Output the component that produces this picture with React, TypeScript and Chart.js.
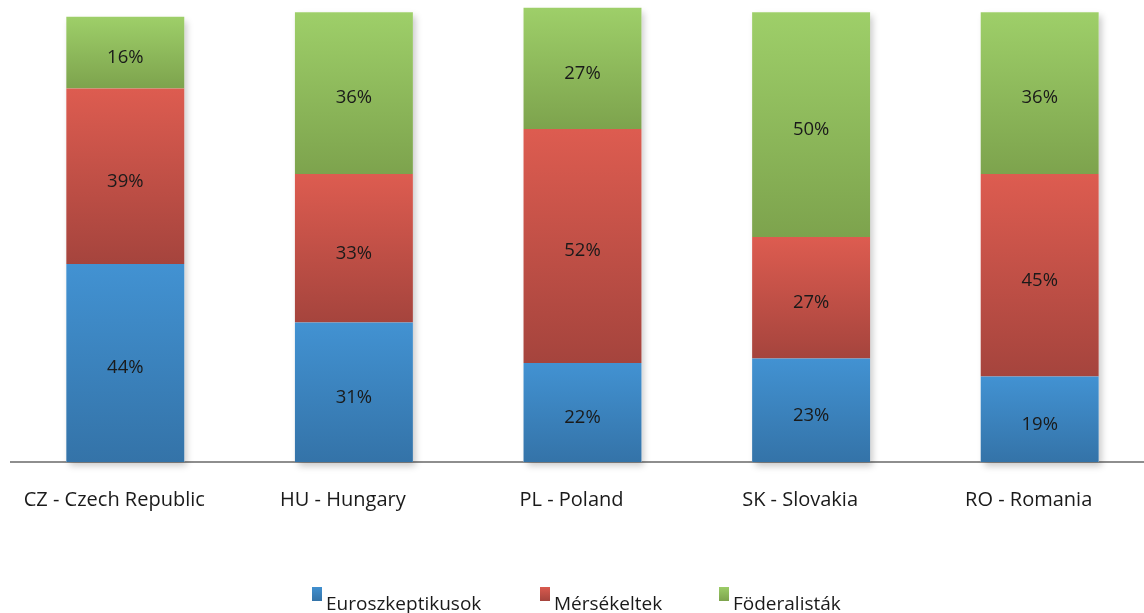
import React, { useEffect, useRef } from "react";
import { Chart, registerables } from "chart.js";

Chart.register(...registerables);

const categories = ["CZ - Czech Republic", "HU - Hungary", "PL - Poland", "SK - Slovakia", "RO - Romania"];
const seriesNames = ["Euroszkeptikusok", "Mérsékeltek", "Föderalisták"];
const euroszkeptikusok = [44, 31, 22, 23, 19];
const mersekeltek = [39, 33, 52, 27, 45];
const foderalistak = [16, 36, 27, 50, 36];
const seriesValues = [euroszkeptikusok, mersekeltek, foderalistak];
const topColors = ["#4292d2", "#dd5c50", "#9ecf69"];
const bottomColors = ["#3473a8", "#a5443d", "#7da34d"];
const FONT = "'Open Sans', Lato, sans-serif";

function segmentGradient(ctx: any, dsIndex: number) {
  const chart = ctx.chart;
  const yScale = chart.scales && chart.scales.y;
  const i = ctx.dataIndex;
  if (!chart.chartArea || !yScale || i === undefined) return topColors[dsIndex];
  let start = 0;
  for (let k = 0; k < dsIndex; k++) start += seriesValues[k][i];
  const end = start + seriesValues[dsIndex][i];
  const yTop = yScale.getPixelForValue(end);
  const yBot = yScale.getPixelForValue(start);
  const g = chart.ctx.createLinearGradient(0, yTop, 0, yBot);
  g.addColorStop(0, topColors[dsIndex]);
  g.addColorStop(1, bottomColors[dsIndex]);
  return g;
}

const shadowPlugin = {
  id: "barShadow",
  beforeDatasetsDraw(chart: any) {
    const c = chart.ctx;
    const meta0 = chart.getDatasetMeta(0);
    const yScale = chart.scales.y;
    c.save();
    meta0.data.forEach((bar: any, i: number) => {
      let total = 0;
      for (let k = 0; k < seriesValues.length; k++) total += seriesValues[k][i];
      const top = yScale.getPixelForValue(total);
      const bottom = yScale.getPixelForValue(0);
      const w = bar.width;
      c.shadowColor = "rgba(0,0,0,0.22)";
      c.shadowBlur = 7;
      c.shadowOffsetX = 3;
      c.shadowOffsetY = 4;
      c.fillStyle = "#ffffff";
      c.fillRect(bar.x - w / 2, top, w, bottom - top);
    });
    c.restore();
  },
};

const labelPlugin = {
  id: "segLabels",
  afterDatasetsDraw(chart: any) {
    const c = chart.ctx;
    c.save();
    c.font = `18.5px ${FONT}`;
    c.fillStyle = "#1a1a1a";
    c.textAlign = "center";
    c.textBaseline = "middle";
    chart.data.datasets.forEach((ds: any, di: number) => {
      const meta = chart.getDatasetMeta(di);
      meta.data.forEach((bar: any, i: number) => {
        const mid = (bar.y + bar.base) / 2 + 5;
        c.fillText(ds.data[i] + "%", bar.x, mid);
      });
    });
    c.restore();
  },
};

const legendPlugin = {
  id: "customLegend",
  afterDraw(chart: any) {
    const c = chart.ctx;
    c.save();
    c.font = `19px ${FONT}`;
    c.textBaseline = "alphabetic";
    c.textAlign = "left";
    const xs = [312, 540, 719];
    seriesNames.forEach((name, i) => {
      const g = c.createLinearGradient(0, 586, 0, 601);
      g.addColorStop(0, topColors[i]);
      g.addColorStop(1, bottomColors[i]);
      c.fillStyle = g;
      c.fillRect(xs[i], 587, 10, 14);
      c.fillStyle = "#1a1a1a";
      c.fillText(name, xs[i] + 14, 610);
    });
    c.restore();
  },
};

export default function App() {
  const ref = useRef<HTMLCanvasElement>(null);
  useEffect(() => {
    if (!ref.current) return;
    const chart = new Chart(ref.current, {
      type: "bar",
      data: {
        labels: categories,
        datasets: seriesNames.map((name, di) => ({
          label: name,
          data: seriesValues[di],
          backgroundColor: (ctx: any) => segmentGradient(ctx, di),
          borderWidth: 0,
          categoryPercentage: 1,
          barPercentage: 0.516,
        })),
      },
      options: {
        animation: false,
        responsive: false,
        maintainAspectRatio: false,
        layout: { padding: { left: 11, right: 0, top: 0, bottom: 0 } },
        plugins: {
          legend: { display: false },
          tooltip: { enabled: false },
        },
        scales: {
          x: {
            stacked: true,
            grid: { display: false, drawTicks: false },
            border: { display: true, color: "#8e8e8e", width: 2 },
            ticks: {
              font: { family: FONT, size: 20 },
              color: "#1a1a1a",
              padding: 26,
              labelOffset: -11,
              maxRotation: 0,
              autoSkip: false,
            },
            afterFit: (scale: any) => {
              scale.height = 613 - 462;
            },
          },
          y: {
            stacked: true,
            display: false,
            min: 0,
            max: 102.7,
          },
        },
      },
      plugins: [shadowPlugin, labelPlugin, legendPlugin],
    });
    return () => chart.destroy();
  }, []);
  return (
    <div style={{ position: "absolute", left: 0, top: 0, width: 1144, height: 613, overflow: "hidden" }}>
      <canvas ref={ref} width={1154} height={613} style={{ display: "block", width: 1154, height: 613 }} />
    </div>
  );
}
